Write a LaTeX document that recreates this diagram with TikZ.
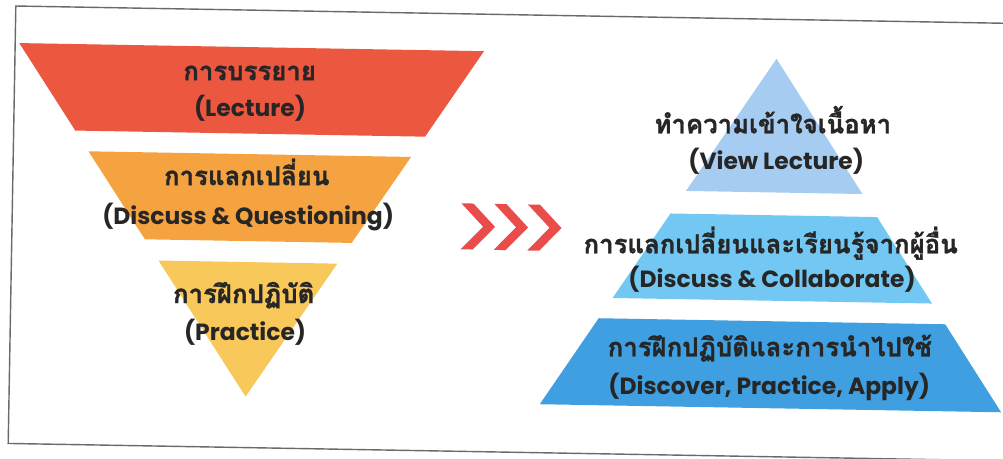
\documentclass[tikz,border=0pt]{standalone}
\usepackage{fontspec}
\newfontfamily\thaifont[Script=Thai, BoldFeatures={FakeBold=1.2}]{Loma}
\newfontfamily\latfont{Poppins}
\definecolor{cred}{HTML}{EC573F}
\definecolor{corange}{HTML}{F5A240}
\definecolor{cyellow}{HTML}{F8C85A}
\definecolor{cblueA}{HTML}{A6CCF2}
\definecolor{cblueB}{HTML}{72C8F2}
\definecolor{cblueC}{HTML}{409FE0}
\definecolor{cchev}{HTML}{EA4C4C}
\definecolor{ctxt}{HTML}{262626}
\definecolor{cframe}{HTML}{6A6A6A}
\begin{document}
\begin{tikzpicture}[x=0.03cm,y=-0.03cm,
  lblth/.style={font=\thaifont\bfseries\fontsize{22}{26}\selectfont, text=ctxt, inner sep=0pt, anchor=mid},
  lblen/.style={font=\latfont\bfseries\fontsize{20}{24}\selectfont, text=ctxt, inner sep=0pt, anchor=mid},
  chev/.style={fill=cchev}]
\useasboundingbox (0,0) rectangle (1003,459);
\fill[white] (0,0) rectangle (1003,459);
\begin{scope}[rotate around={-1:(500,230)}]
% frame
\draw[cframe, line width=1.2pt] (1040,14.5) -- (12,14.5) -- (12,452) -- (1040,452);
% left funnel
\fill[cred] (16.1,51.5) -- (480.9,51.5) -- (423.4,138) -- (73.6,138) -- cycle;
\fill[corange] (87.2,158.5) -- (409.8,158.5) -- (351.9,245.5) -- (145.1,245.5) -- cycle;
\fill[cyellow] (159.1,266.5) -- (337.9,266.5) -- (248.5,401) -- cycle;
% chevrons
\foreach \xo in {461,494,527.5}{
  \fill[chev] (\xo,204) -- (\xo+12,204) -- (\xo+34,227) -- (\xo+12,250) -- (\xo,250) -- (\xo+22,227) -- cycle;
}
% right pyramid
\fill[cblueA] (773.5,54) -- (861.7,187.7) -- (685.3,187.7) -- cycle;
\fill[cblueB] (670.2,210.5) -- (876.8,210.5) -- (933.2,296) -- (613.8,296) -- cycle;
\fill[cblueC] (600.2,316.5) -- (946.8,316.5) -- (1004.2,403.5) -- (542.8,403.5) -- cycle;
% texts
\node[lblth] (redth) at (247,82) {การบรรยาย};
\node[lblen] (reden) at (248,118) {(Lecture)};
\node[lblth] (orth) at (246,187) {การแลกเปลี่ยน};
\node[lblen] (oren) at (248,226) {(Discuss \& Questioning)};
\node[lblth] (yeth) at (245,305) {การฝึกปฏิบัติ};
\node[lblen] (yeen) at (247,342) {(Practice)};
\node[lblth] (bath) at (771,126) {ทำความเข้าใจเนื้อหา};
\node[lblen] (baen) at (775,162) {(View Lecture)};
\node[lblth] (bbth) at (771,246) {การแลกเปลี่ยนและเรียนรู้จากผู้อื่น};
\node[lblen] (bben) at (773,280) {(Discuss \& Collaborate)};
\node[lblth] (bcth) at (772,349) {การฝึกปฏิบัติและการนำไปใช้};
\node[lblen] (bcen) at (772,387) {(Discover, Practice, Apply)};
\end{scope}
\end{tikzpicture}
\end{document}
